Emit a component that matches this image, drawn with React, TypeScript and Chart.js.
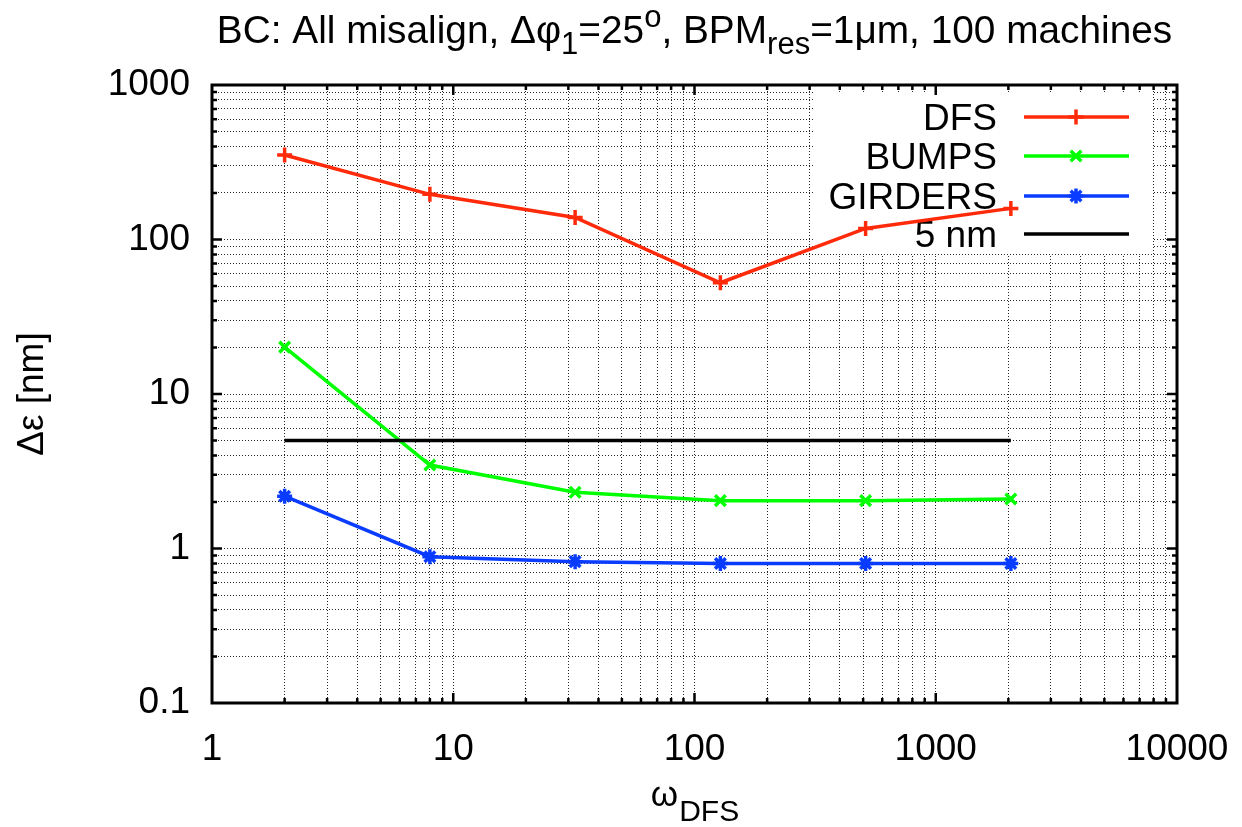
import React, { useEffect, useRef } from 'react';
import { Chart, registerables } from 'chart.js';

Chart.register(...registerables);

// ---------- data ----------
const omega = [2, 8, 32, 128, 512, 2048];
const dfs = [352, 196, 139, 52.5, 118, 159];
const bumps = [20.1, 3.47, 2.31, 2.04, 2.04, 2.09];
const girders = [2.18, 0.885, 0.822, 0.8, 0.8, 0.8];
const limitX = [2, 2048];
const limitY = [5, 5];
const xMajor = [1, 10, 100, 1000, 10000];
const yMajor = [0.1, 1, 10, 100, 1000];
const seriesNames = ['DFS', 'BUMPS', 'GIRDERS', '5 nm'];

const FONT = '"Liberation Sans", Arial, Helvetica, sans-serif';
const RED = '#ff2a0a';
const GREEN = '#00ff00';
const BLUE = '#0a3cff';
const BLACK = '#000000';
const seriesColors = [RED, GREEN, BLUE, BLACK];
const seriesMarkers = ['cross', 'crossRot', 'star', ''];

function logTicks(majors: number[]) {
  const out: { value: number; major: boolean }[] = [];
  majors.forEach((m, i) => {
    out.push({ value: m, major: true });
    if (i < majors.length - 1) {
      for (let k = 2; k <= 9; k++) out.push({ value: +(m * k).toPrecision(6), major: false });
    }
  });
  return out;
}

function isMajor(v: number, majors: number[]) {
  return majors.some((m) => Math.abs(m - v) / m < 1e-6);
}

function drawMarker(ctx: CanvasRenderingContext2D, style: string, x: number, y: number, r: number) {
  ctx.beginPath();
  if (style === 'cross' || style === 'star') {
    ctx.moveTo(x - r, y);
    ctx.lineTo(x + r, y);
    ctx.moveTo(x, y - r);
    ctx.lineTo(x, y + r);
  }
  if (style === 'crossRot' || style === 'star') {
    const d = r * Math.SQRT1_2;
    ctx.moveTo(x - d, y - d);
    ctx.lineTo(x + d, y + d);
    ctx.moveTo(x - d, y + d);
    ctx.lineTo(x + d, y - d);
  }
  ctx.stroke();
}

type Part = { t: string; s?: 'sub' | 'sup' };

function drawRich(ctx: CanvasRenderingContext2D, parts: Part[], cx: number, baseY: number, size: number) {
  const sizes = parts.map((p) => (p.s ? size * 0.8 : size));
  let total = 0;
  const widths = parts.map((p, i) => {
    ctx.font = `${sizes[i]}px ${FONT}`;
    const w = ctx.measureText(p.t).width;
    total += w;
    return w;
  });
  let x = cx - total / 2;
  ctx.textAlign = 'left';
  ctx.textBaseline = 'alphabetic';
  ctx.fillStyle = '#000';
  parts.forEach((p, i) => {
    ctx.font = `${sizes[i]}px ${FONT}`;
    const dy = p.s === 'sub' ? size * 0.28 : p.s === 'sup' ? -size * 0.42 : 0;
    ctx.fillText(p.t, x, baseY + dy);
    x += widths[i];
  });
}

const titleParts: Part[] = [
  { t: 'BC: All misalign, Δφ' },
  { t: '1', s: 'sub' },
  { t: '=25' },
  { t: 'o', s: 'sup' },
  { t: ', BPM' },
  { t: 'res', s: 'sub' },
  { t: '=1μm, 100 machines' },
];

const decorPlugin = {
  id: 'decor',
  beforeDatasetsDraw(chart: any) {
    const ctx: CanvasRenderingContext2D = chart.ctx;
    ctx.save();
    ctx.fillStyle = '#ffffff';
    ctx.fillRect(815, 92, 337, 162);
    const rows = [117, 156, 196, 234];
    ctx.font = `37px ${FONT}`;
    ctx.textAlign = 'right';
    ctx.textBaseline = 'alphabetic';
    seriesNames.forEach((name, i) => {
      const y = rows[i];
      ctx.fillStyle = '#000';
      ctx.fillText(name, 997, y + 13);
      ctx.strokeStyle = seriesColors[i];
      ctx.lineWidth = 3.5;
      ctx.beginPath();
      ctx.moveTo(1024, y);
      ctx.lineTo(1129, y);
      ctx.stroke();
      if (seriesMarkers[i]) drawMarker(ctx, seriesMarkers[i], 1076, y, 7.5);
    });
    ctx.restore();
  },
  afterDraw(chart: any) {
    const ctx: CanvasRenderingContext2D = chart.ctx;
    const { left, right, top, bottom } = chart.chartArea;
    const xs = chart.scales.x;
    const ys = chart.scales.y;
    ctx.save();
    // tick marks inside on all four sides
    ctx.strokeStyle = '#000';
    ctx.lineWidth = 2.5;
    ctx.beginPath();
    xs.ticks.forEach((t: any) => {
      const px = xs.getPixelForValue(t.value);
      if (px <= left + 1 || px >= right - 1) return;
      const len = isMajor(t.value, xMajor) ? 10 : 5;
      ctx.moveTo(px, bottom);
      ctx.lineTo(px, bottom - len);
      ctx.moveTo(px, top);
      ctx.lineTo(px, top + len);
    });
    ys.ticks.forEach((t: any) => {
      const py = ys.getPixelForValue(t.value);
      if (py <= top + 1 || py >= bottom - 1) return;
      const len = isMajor(t.value, yMajor) ? 10 : 5;
      ctx.moveTo(left, py);
      ctx.lineTo(left + len, py);
      ctx.moveTo(right, py);
      ctx.lineTo(right - len, py);
    });
    ctx.stroke();
    // frame
    ctx.lineWidth = 3;
    ctx.strokeRect(left, top, right - left, bottom - top);

    const cx = (left + right) / 2;
    // title
    drawRich(ctx, titleParts, cx, 43, 38.8);
    // x axis title
    ctx.fillStyle = '#000';
    ctx.textBaseline = 'alphabetic';
    ctx.font = `35px ${FONT}`;
    const wOmega = ctx.measureText('ω').width;
    ctx.font = `30px ${FONT}`;
    const wSub = ctx.measureText('DFS').width;
    const sx = cx - (wOmega + wSub) / 2;
    ctx.textAlign = 'left';
    ctx.font = `35px ${FONT}`;
    ctx.fillText('ω', sx, 806);
    ctx.font = `30px ${FONT}`;
    ctx.fillText('DFS', sx + wOmega + 1, 821);
    // y axis title
    ctx.translate(33, (top + bottom) / 2);
    ctx.rotate(-Math.PI / 2);
    ctx.textAlign = 'center';
    ctx.textBaseline = 'middle';
    ctx.font = `37px ${FONT}`;
    ctx.fillText('Δε [nm]', 0, 0);
    ctx.restore();
  },
};

function mkSeries(label: string, ys: number[], color: string, marker: string) {
  return {
    label,
    data: omega.map((x, i) => ({ x, y: ys[i] })),
    borderColor: color,
    backgroundColor: color,
    borderWidth: 3.5,
    pointStyle: marker,
    pointRadius: 7.5,
    pointBorderWidth: 3.5,
    pointBorderColor: color,
    pointBackgroundColor: color,
    fill: false,
    tension: 0,
  };
}

export default function App() {
  const ref = useRef<HTMLCanvasElement | null>(null);
  useEffect(() => {
    if (!ref.current) return;
    const tickFont = { family: FONT, size: 37 };
    const chart = new Chart(ref.current, {
      type: 'line',
      data: {
        datasets: [
          {
            label: seriesNames[3],
            data: limitX.map((x, i) => ({ x, y: limitY[i] })),
            borderColor: BLACK,
            borderWidth: 3.5,
            pointRadius: 0,
            fill: false,
          } as any,
          mkSeries(seriesNames[2], girders, BLUE, 'star'),
          mkSeries(seriesNames[1], bumps, GREEN, 'crossRot'),
          mkSeries(seriesNames[0], dfs, RED, 'cross'),
        ],
      },
      options: {
        responsive: false,
        animation: false,
        devicePixelRatio: 1,
        layout: { padding: { top: 85, right: 65, left: 0, bottom: 0 } },
        plugins: {
          legend: { display: false },
          title: { display: false },
          tooltip: { enabled: false },
        },
        scales: {
          x: {
            type: 'logarithmic',
            min: 1,
            max: 10000,
            afterBuildTicks: (s: any) => {
              s.ticks = logTicks(xMajor);
            },
            afterFit: (s: any) => {
              s.height = 124;
              s.paddingLeft = 0;
              s.paddingRight = 0;
            },
            grid: { color: 'rgba(0,0,0,0.85)', lineWidth: 1, drawTicks: false },
            border: { display: false, dash: [1, 2] },
            ticks: {
              autoSkip: false,
              maxRotation: 0,
              minRotation: 0,
              padding: 25,
              color: '#000',
              font: tickFont,
              callback: (v: any) => (isMajor(Number(v), xMajor) ? String(Number(v)) : ''),
            },
          },
          y: {
            type: 'logarithmic',
            min: 0.1,
            max: 1000,
            afterBuildTicks: (s: any) => {
              s.ticks = logTicks(yMajor);
            },
            afterFit: (s: any) => {
              s.width = 212;
              s.paddingTop = 0;
              s.paddingBottom = 0;
            },
            grid: { color: 'rgba(0,0,0,0.85)', lineWidth: 1, drawTicks: false },
            border: { display: false, dash: [1, 2] },
            ticks: {
              autoSkip: false,
              padding: 22,
              color: '#000',
              font: tickFont,
              callback: (v: any) => (isMajor(Number(v), yMajor) ? String(Number(v)) : ''),
            },
          },
        },
      } as any,
      plugins: [decorPlugin],
    });
    return () => chart.destroy();
  }, []);
  return (
    <div style={{ position: 'fixed', left: 0, top: 0, width: 1242, height: 827, background: '#fff' }}>
      <canvas ref={ref} width={1242} height={827} style={{ width: 1242, height: 827, display: 'block' }} />
    </div>
  );
}
